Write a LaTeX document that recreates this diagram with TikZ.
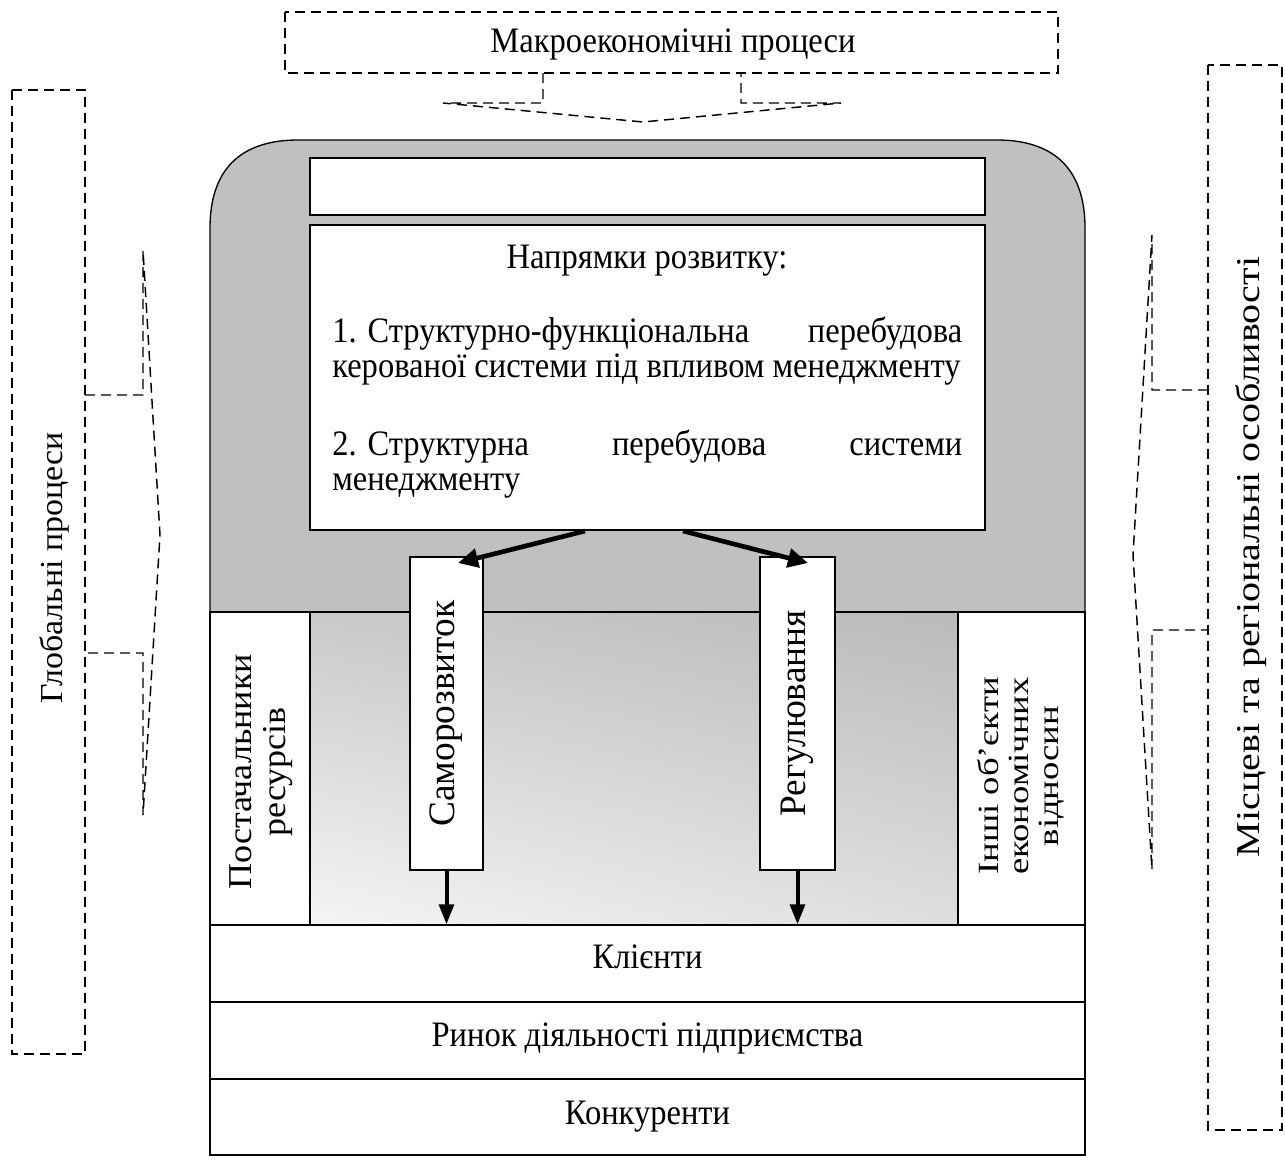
\documentclass[tikz,border=0pt]{standalone}
\usepackage{fontspec}
\setmainfont{Liberation Serif}
\usetikzlibrary{arrows.meta,shadings}
\definecolor{shell}{HTML}{C0C0C0}
\newcommand{\hs}[1]{\scalebox{1}[1.1]{#1}}
\begin{document}
\begin{tikzpicture}[x=0.75pt,y=-0.75pt,
 dsh/.style={draw, line width=1.1pt, dash pattern=on 7.5pt off 4.5pt},
 solid box/.style={draw, line width=1pt, fill=white},
 lbl/.style={font=\fontsize{24.4}{28}\selectfont, inner sep=0pt},
 vlbl/.style={inner sep=0pt, rotate=90, align=center},
 bigarrow/.style={line width=3.5pt, -{Triangle[length=15pt,width=14pt]}},
 downarrow/.style={line width=3pt, -{Triangle[length=15pt,width=11pt]}}
]
\useasboundingbox (0,0) rectangle (1285,1160);

% ---- top: macro processes
\draw[dsh] (285,12) rectangle (1058,73);
\node[lbl] (macro) at (673,44) {\hs{Макроекономічні процеси}};
\draw[dsh] (543,73) -- (543,103) -- (443,103) -- (643,122) -- (841,103) -- (741,103) -- (741,73);

% ---- left: global processes
\draw[dsh] (12,90) rectangle (85,1054);
\node[vlbl, font=\fontsize{24}{28}\selectfont] (glob) at (54,568) {\scalebox{1.06}[1]{Глобальні процеси}};
\draw[dsh] (85,395) -- (143,395) -- (143,250) -- (160,535) -- (143,815) -- (143,653) -- (85,653);

% ---- right: local / regional
\draw[dsh] (1208,65) rectangle (1282,1130);
\node[vlbl, font=\fontsize{25}{28}\selectfont] (loc) at (1251,557) {\scalebox{1.2}[1]{Місцеві та регіональні особливості}};
\draw[dsh] (1208,390) -- (1152,390) -- (1152,235) -- (1133,555) -- (1152,870) -- (1152,630) -- (1208,630);

% ---- grey shell
\draw[line width=1pt, fill=shell] (210,612) -- (210,228) .. controls (210,170) and (240,140) .. (298,140) -- (997,140) .. controls (1055,140) and (1085,170) .. (1085,228) -- (1085,612) -- cycle;
\draw[solid box] (310,158) rectangle (985,215);
\draw[solid box] (310,225) rectangle (985,530);
\node[lbl, anchor=base] (dir) at (647,268) {\hs{Напрямки розвитку:}};
\node[lbl, anchor=base west] (l1) at (332,342) {\hs{\hbox to 472.5pt{1. Структурно-функціональна\hfill перебудова}}};
\node[lbl, anchor=base west] (l2) at (332,377) {\hs{керованої системи під впливом менеджменту}};
\node[lbl, anchor=base west] (l3) at (332,455) {\hs{\hbox to 472.5pt{2. Структурна\hfill перебудова\hfill системи}}};
\node[lbl, anchor=base west] (l4) at (332,490) {\hs{менеджменту}};

% ---- middle band
\shade[upper left=black!21, upper right=black!27, lower left=black!4, lower right=black!13] (310,612) rectangle (958,925);
\draw[solid box] (210,612) rectangle (310,925);
\draw[solid box] (958,612) rectangle (1085,925);
\draw[line width=1pt] (210,612) rectangle (1085,925);
\node[vlbl, font=\fontsize{25}{25.5}\selectfont] (post) at (261,772) {\scalebox{1.08}[1]{Постачальники}\\\scalebox{1.08}[1]{ресурсів}};
\node[vlbl, font=\fontsize{22}{22.5}\selectfont] (inshi) at (1021,776) {\scalebox{1.25}[1]{Інші об’єкти}\\\scalebox{1.25}[1]{економічних}\\\scalebox{1.25}[1]{відносин}};

% vertical boxes
\node[solid box, minimum width=54.75pt, minimum height=234.75pt, inner sep=0pt] (sam) at (446.5,713.5) {};
\node[vlbl, font=\fontsize{28}{30}\selectfont] (samt) at (sam.center) {Саморозвиток};
\node[solid box, minimum width=56.25pt, minimum height=234.75pt, inner sep=0pt] (reg) at (797.5,713.5) {};
\node[vlbl, font=\fontsize{28}{30}\selectfont] (regt) at (reg.center) {Регулювання};

% ---- bottom rows
\node[solid box, minimum width=656.25pt, minimum height=57.75pt, inner sep=0pt] (kl) at (647.5,963.5) {};
\node[lbl, anchor=base] at (647.5,968) {\hs{Клієнти}};
\node[solid box, minimum width=656.25pt, minimum height=57.75pt, inner sep=0pt] (rynok) at (647.5,1040.5) {};
\node[lbl, anchor=base] at (647.5,1046) {\hs{Ринок діяльності підприємства}};
\node[solid box, minimum width=656.25pt, minimum height=57pt, inner sep=0pt] (konk) at (647.5,1117) {};
\node[lbl, anchor=base] at (647.5,1124) {\hs{Конкуренти}};

% ---- arrows
\coordinate (ls) at (585,531);
\coordinate (rs) at (683,531);
\coordinate (lt) at (458,563);
\coordinate (rt) at (808,563);
\draw[bigarrow] (ls) -- (lt);
\draw[bigarrow] (rs) -- (rt);
\draw[downarrow] (sam.south) -- (sam.south |- kl.north);
\draw[downarrow] (reg.south) -- (reg.south |- kl.north);
\end{tikzpicture}
\end{document}
